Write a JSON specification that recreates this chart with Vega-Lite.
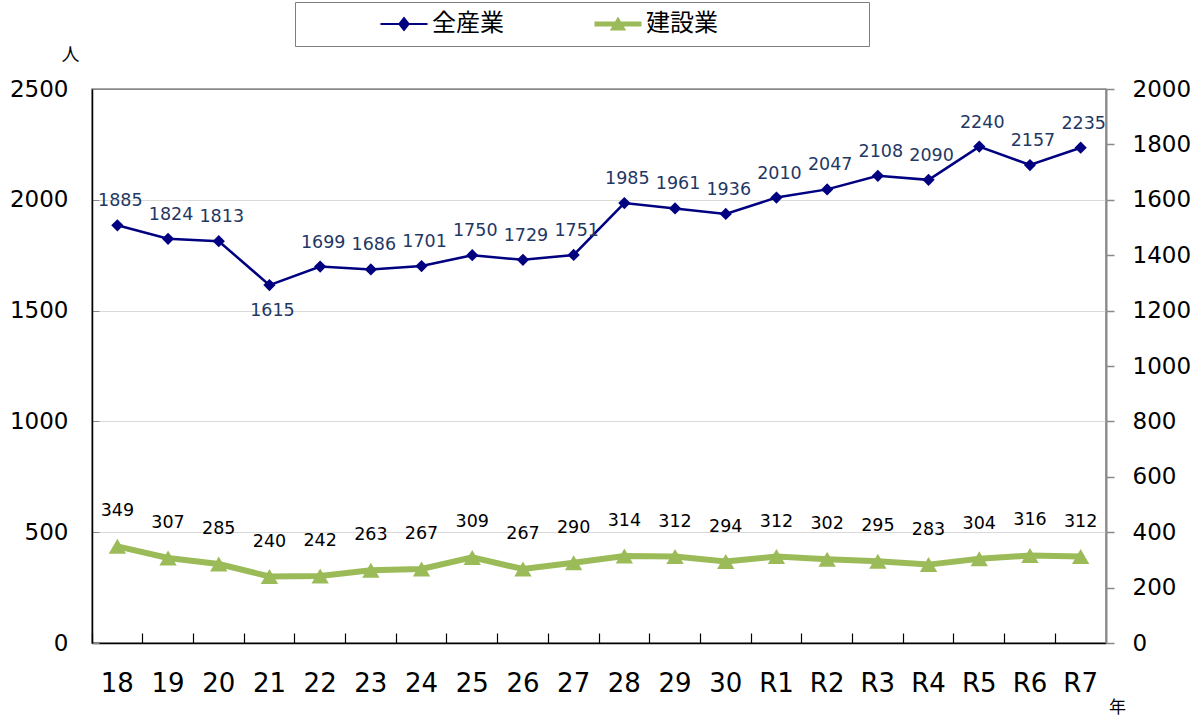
{
  "$schema": "https://vega.github.io/schema/vega-lite/v6.json",
  "width": 1014,
  "height": 554,
  "autosize": {"type": "none"},
  "padding": {"left": 92, "top": 89, "right": 94, "bottom": 76},
  "background": "white",
  "config": {
    "font": "DejaVu Sans, Noto Sans CJK JP",
    "view": {"stroke": "#898989", "strokeWidth": 1.5},
    "axis": {"labelColor": "#000000", "titleColor": "#000000", "labelFont": "DejaVu Sans", "titleFont": "Noto Sans CJK JP", "titleFontWeight": "normal"}
  },
  "data": {
    "values": [
      {"year": "18", "all": 1885, "con": 349},
      {"year": "19", "all": 1824, "con": 307},
      {"year": "20", "all": 1813, "con": 285},
      {"year": "21", "all": 1615, "con": 240},
      {"year": "22", "all": 1699, "con": 242},
      {"year": "23", "all": 1686, "con": 263},
      {"year": "24", "all": 1701, "con": 267},
      {"year": "25", "all": 1750, "con": 309},
      {"year": "26", "all": 1729, "con": 267},
      {"year": "27", "all": 1751, "con": 290},
      {"year": "28", "all": 1985, "con": 314},
      {"year": "29", "all": 1961, "con": 312},
      {"year": "30", "all": 1936, "con": 294},
      {"year": "R1", "all": 2010, "con": 312},
      {"year": "R2", "all": 2047, "con": 302},
      {"year": "R3", "all": 2108, "con": 295},
      {"year": "R4", "all": 2090, "con": 283},
      {"year": "R5", "all": 2240, "con": 304},
      {"year": "R6", "all": 2157, "con": 316},
      {"year": "R7", "all": 2235, "con": 312}
    ]
  },
  "encoding": {
    "x": {
      "field": "year", "type": "ordinal", "sort": null,
      "scale": {"type": "band", "paddingInner": 0, "paddingOuter": 0},
      "axis": {
        "orient": "bottom", "bandPosition": 0, "grid": false,
        "ticks": true, "tickSize": -10, "tickColor": "#000000", "tickWidth": 1.2,
        "domainColor": "#000000", "domainWidth": 1.5,
        "labelFontSize": 26, "labelAngle": 0, "labelPadding": 37,
        "title": "年", "titleX": 1025, "titleY": 64, "titleFontSize": 17, "titleAngle": 0,
        "titleAlign": "center", "titleBaseline": "middle"
      }
    }
  },
  "layer": [
    {
      "encoding": {
        "y": {
          "field": "all", "type": "quantitative",
          "scale": {"domain": [0, 2500]},
          "axis": {
            "orient": "left", "values": [0, 500, 1000, 1500, 2000, 2500], "format": "d",
            "grid": true, "gridColor": {"condition": {"test": "datum.value === 2500", "value": "#898989"}, "value": "#d9d9d9"},
            "ticks": true, "tickSize": -7, "tickColor": "#898989",
            "domainColor": "#000000", "domainWidth": 1.5,
            "labelFontSize": 23, "labelPadding": 31,
            "title": "人", "titleAngle": 0, "titleX": -22, "titleY": -34, "titleFontSize": 18,
            "titleAlign": "center", "titleBaseline": "middle"
          }
        }
      },
      "layer": [
        {
          "mark": {"type": "line", "strokeWidth": 2.5},
          "encoding": {
            "color": {
              "datum": "全産業", "type": "nominal",
              "scale": {"domain": ["全産業", "建設業"], "range": ["#000080", "#9BBB59"]},
              "legend": {
                "orient": "none", "legendX": 203, "legendY": -87, "direction": "horizontal",
                "title": "\u2800\u2800\u2800\u2800", "titleOrient": "left",
                "titleFont": "DejaVu Sans", "titleFontSize": 24, "titlePadding": 12, "titleColor": "white",
                "padding": 10, "strokeColor": "#7f7f7f", "fillColor": "white",
                "symbolSize": 576, "symbolStrokeWidth": 0,
                "labelFont": "DejaVu Sans, Noto Sans CJK JP", "labelFontSize": 24, "labelColor": "#000000",
                "labelOffset": 16, "columnPadding": 90, "labelLimit": 600,
                "labelExpr": "datum.label === '建設業' ? datum.label + '\u2800\u2800\u2800\u2800\u2800\u2800\u2800\u2800' : datum.label",
                "encode": {
                  "symbols": {
                    "update": {
                      "shape": {"signal": "datum.value === '全産業' ? 'M-1.96,-0.09L1.96,-0.09L1.96,0.09L-1.96,0.09Z M0,-0.62L0.5,0L0,0.62L-0.5,0Z' : 'M-1.96,-0.2L1.96,-0.2L1.96,0.2L-1.96,0.2Z M0,-0.62L0.68,0.55L-0.68,0.55Z'"},
                      "fill": {"signal": "datum.value === '全産業' ? '#000080' : '#9BBB59'"},
                      "fillOpacity": {"value": 1},
                      "opacity": {"value": 1},
                      "strokeWidth": {"value": 0}
                    }
                  }
                }
              }
            }
          }
        },
        {"mark": {"type": "point", "shape": "diamond", "size": 150, "filled": true, "color": "#000080", "opacity": 1}},
        {
          "transform": [{"filter": "datum.year !== '21'"}],
          "mark": {"type": "text", "fontSize": 17.5, "color": "#1F3864", "dx": 3, "dy": -24, "baseline": "middle", "font": "DejaVu Sans"},
          "encoding": {"text": {"field": "all", "type": "quantitative", "format": "d"}}
        },
        {
          "transform": [{"filter": "datum.year === '21'"}],
          "mark": {"type": "text", "fontSize": 17.5, "color": "#1F3864", "dx": 3, "dy": 26, "baseline": "middle", "font": "DejaVu Sans"},
          "encoding": {"text": {"field": "all", "type": "quantitative", "format": "d"}}
        }
      ]
    },
    {
      "encoding": {
        "y": {
          "field": "con", "type": "quantitative",
          "scale": {"domain": [0, 2000]},
          "axis": {
            "orient": "right", "values": [0, 200, 400, 600, 800, 1000, 1200, 1400, 1600, 1800, 2000], "format": "d",
            "grid": false, "ticks": true, "tickSize": 8, "tickColor": "#898989", "tickWidth": 1.5,
            "domainColor": "#898989", "domainWidth": 2,
            "labelFontSize": 23, "labelPadding": 18, "title": null
          }
        }
      },
      "layer": [
        {
          "mark": {"type": "line", "strokeWidth": 6},
          "encoding": {"color": {"datum": "建設業", "type": "nominal"}}
        },
        {"mark": {"type": "point", "shape": "triangle-up", "size": 300, "filled": true, "color": "#9BBB59", "opacity": 1}},
        {
          "mark": {"type": "text", "fontSize": 17.5, "color": "#000000", "dy": -35, "baseline": "middle", "font": "DejaVu Sans"},
          "encoding": {"text": {"field": "con", "type": "quantitative", "format": "d"}}
        }
      ]
    }
  ],
  "resolve": {"scale": {"y": "independent"}}
}
